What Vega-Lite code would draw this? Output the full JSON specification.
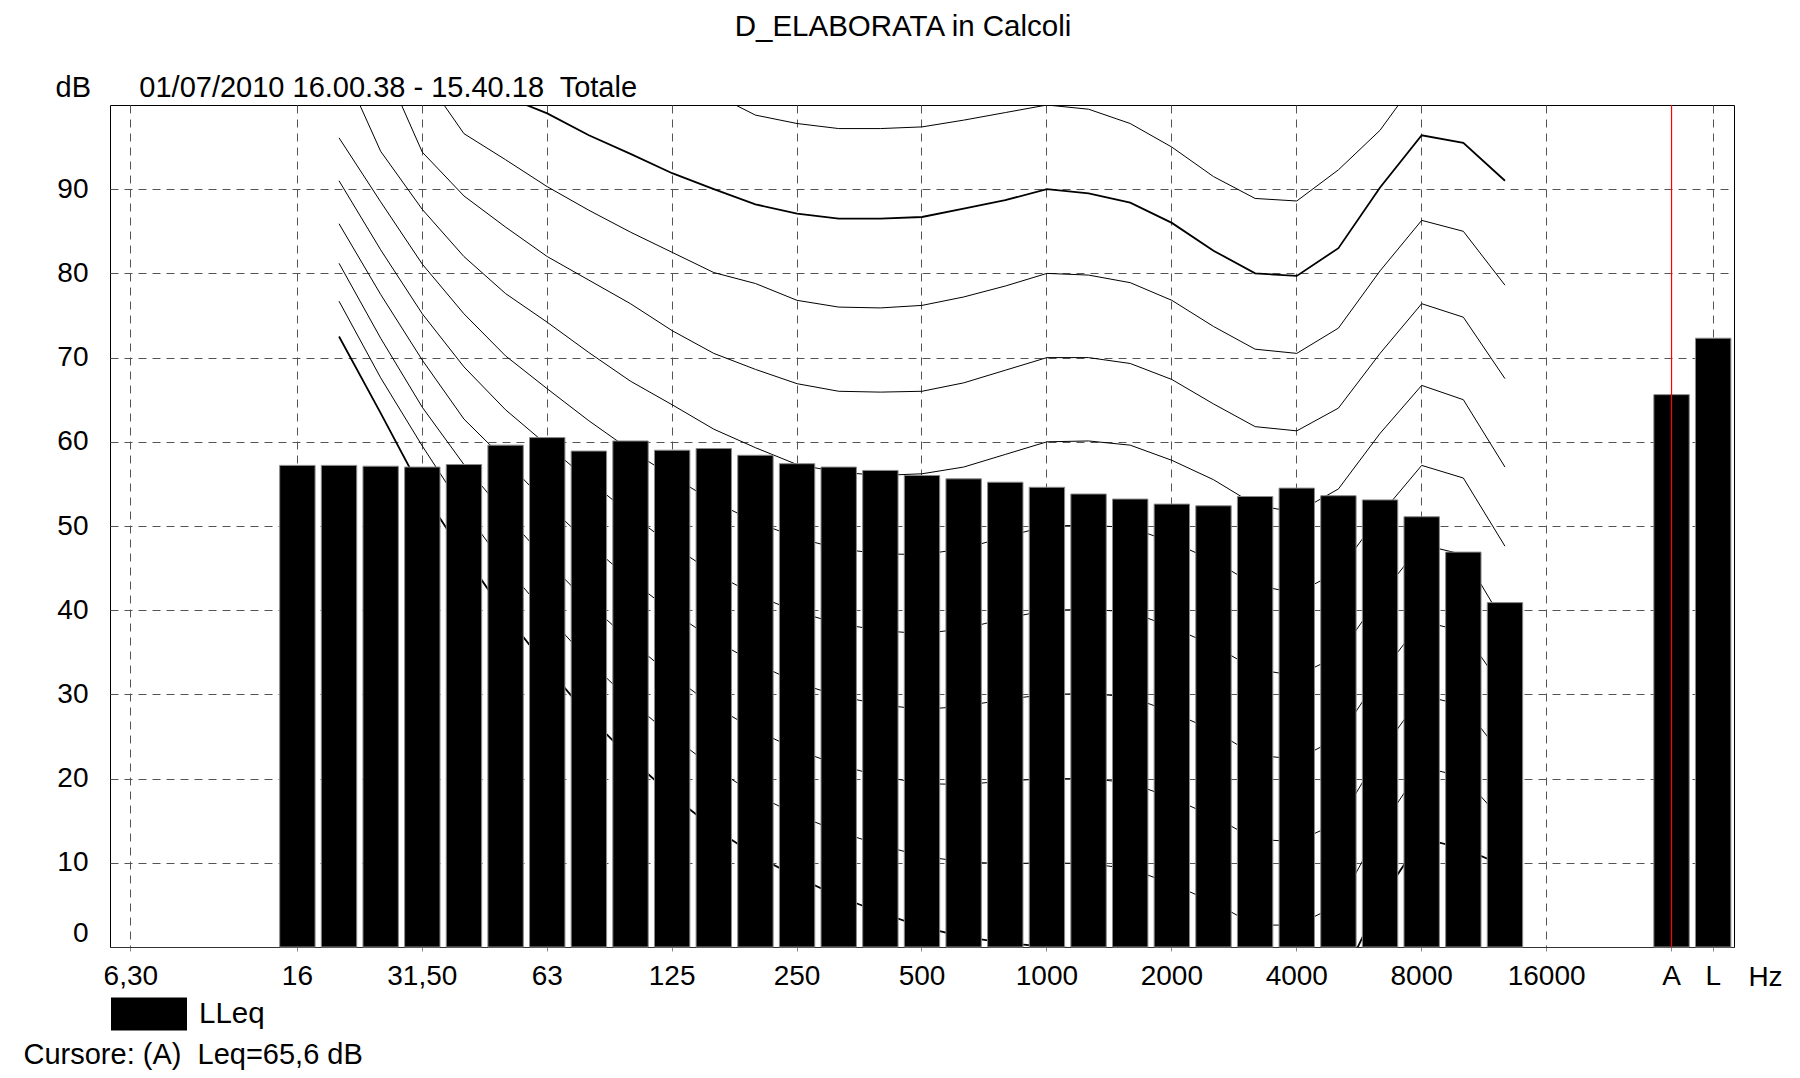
{
  "$schema": "https://vega.github.io/schema/vega-lite/v6.json",
  "width": 1624,
  "height": 842,
  "autosize": {"type": "none"},
  "padding": {"left": 110, "top": 105, "right": 66, "bottom": 131},
  "background": "#ffffff",
  "config": {
    "font": "Liberation Sans",
    "view": {"stroke": "#000000", "strokeWidth": 1}
  },
  "title": {
    "text": "D_ELABORATA in Calcoli",
    "anchor": "middle",
    "frame": "group",
    "dx": -19,
    "offset": 31,
    "fontSize": 29.5,
    "fontWeight": "normal",
    "font": "Liberation Sans",
    "color": "#000000"
  },
  "datasets": {
    "bars": [
      {"f":"16","v":57.2,"s":"LLeq"},{"f":"20","v":57.2,"s":"LLeq"},{"f":"25","v":57.1,"s":"LLeq"},{"f":"31,50","v":57.0,"s":"LLeq"},
      {"f":"40","v":57.3,"s":"LLeq"},{"f":"50","v":59.6,"s":"LLeq"},{"f":"63","v":60.5,"s":"LLeq"},{"f":"80","v":58.9,"s":"LLeq"},
      {"f":"100","v":60.1,"s":"LLeq"},{"f":"125","v":59.0,"s":"LLeq"},{"f":"160","v":59.2,"s":"LLeq"},{"f":"200","v":58.4,"s":"LLeq"},
      {"f":"250","v":57.4,"s":"LLeq"},{"f":"315","v":57.0,"s":"LLeq"},{"f":"400","v":56.6,"s":"LLeq"},{"f":"500","v":56.0,"s":"LLeq"},
      {"f":"630","v":55.6,"s":"LLeq"},{"f":"800","v":55.2,"s":"LLeq"},{"f":"1000","v":54.6,"s":"LLeq"},{"f":"1250","v":53.8,"s":"LLeq"},
      {"f":"1600","v":53.2,"s":"LLeq"},{"f":"2000","v":52.6,"s":"LLeq"},{"f":"2500","v":52.4,"s":"LLeq"},{"f":"3150","v":53.5,"s":"LLeq"},
      {"f":"4000","v":54.5,"s":"LLeq"},{"f":"5000","v":53.6,"s":"LLeq"},{"f":"6300","v":53.1,"s":"LLeq"},{"f":"8000","v":51.1,"s":"LLeq"},
      {"f":"10000","v":46.9,"s":"LLeq"},{"f":"12500","v":40.9,"s":"LLeq"},{"f":"A","v":65.6,"s":"LLeq"},{"f":"L","v":72.3,"s":"LLeq"}
    ],
    "cursor": [{"f":"A"}],
    "curves": [
      {"f":"20","phon":0,"v":72.5},{"f":"25","phon":0,"v":63.4},{"f":"31,50","phon":0,"v":54.1},{"f":"40","phon":0,"v":46.6},{"f":"50","phon":0,"v":39.5},{"f":"63","phon":0,"v":33.2},{"f":"80","phon":0,"v":27.4},{"f":"100","phon":0,"v":22.4},{"f":"125","phon":0,"v":18.0},{"f":"160","phon":0,"v":14.1},{"f":"200","phon":0,"v":10.9},{"f":"250","phon":0,"v":8.3},{"f":"315","phon":0,"v":6.0},{"f":"400","phon":0,"v":4.1},{"f":"500","phon":0,"v":2.4},{"f":"630","phon":0,"v":1.2},{"f":"800","phon":0,"v":0.5},{"f":"1000","phon":0,"v":0},{"f":"1250","phon":0,"v":-0.2},{"f":"1600","phon":0,"v":-0.9},{"f":"2000","phon":0,"v":-2.7},{"f":"2500","phon":0,"v":-5.0},{"f":"3150","phon":0,"v":-7.6},{"f":"4000","phon":0,"v":-7.4},{"f":"5000","phon":0,"v":-4.8},{"f":"6300","phon":0,"v":5.5},{"f":"8000","phon":0,"v":12.9},{"f":"10000","phon":0,"v":11.7},{"f":"12500","phon":0,"v":9.6},
      {"f":"20","phon":10,"v":76.7},{"f":"25","phon":10,"v":67.6},{"f":"31,50","phon":10,"v":59.5},{"f":"40","phon":10,"v":51.9},{"f":"50","phon":10,"v":45.2},{"f":"63","phon":10,"v":39.4},{"f":"80","phon":10,"v":34.0},{"f":"100","phon":10,"v":29.2},{"f":"125","phon":10,"v":25.0},{"f":"160","phon":10,"v":21.3},{"f":"200","phon":10,"v":18.1},{"f":"250","phon":10,"v":15.7},{"f":"315","phon":10,"v":13.7},{"f":"400","phon":10,"v":12.1},{"f":"500","phon":10,"v":10.8},{"f":"630","phon":10,"v":10.1},{"f":"800","phon":10,"v":9.9},{"f":"1000","phon":10,"v":10},{"f":"1250","phon":10,"v":9.9},{"f":"1600","phon":10,"v":9.3},{"f":"2000","phon":10,"v":7.5},{"f":"2500","phon":10,"v":5.3},{"f":"3150","phon":10,"v":2.6},{"f":"4000","phon":10,"v":2.6},{"f":"5000","phon":10,"v":5.0},{"f":"6300","phon":10,"v":14.0},{"f":"8000","phon":10,"v":21.4},{"f":"10000","phon":10,"v":20.2},{"f":"12500","phon":10,"v":14.7},
      {"f":"20","phon":20,"v":81.2},{"f":"25","phon":20,"v":72.3},{"f":"31,50","phon":20,"v":64.1},{"f":"40","phon":20,"v":57.3},{"f":"50","phon":20,"v":51.4},{"f":"63","phon":20,"v":45.8},{"f":"80","phon":20,"v":40.8},{"f":"100","phon":20,"v":36.3},{"f":"125","phon":20,"v":32.2},{"f":"160","phon":20,"v":28.6},{"f":"200","phon":20,"v":25.8},{"f":"250","phon":20,"v":23.4},{"f":"315","phon":20,"v":21.6},{"f":"400","phon":20,"v":20.3},{"f":"500","phon":20,"v":19.4},{"f":"630","phon":20,"v":19.3},{"f":"800","phon":20,"v":19.7},{"f":"1000","phon":20,"v":20},{"f":"1250","phon":20,"v":20.0},{"f":"1600","phon":20,"v":19.5},{"f":"2000","phon":20,"v":17.7},{"f":"2500","phon":20,"v":15.5},{"f":"3150","phon":20,"v":12.8},{"f":"4000","phon":20,"v":12.5},{"f":"5000","phon":20,"v":14.8},{"f":"6300","phon":20,"v":23.0},{"f":"8000","phon":20,"v":29.9},{"f":"10000","phon":20,"v":28.7},{"f":"12500","phon":20,"v":22.3},
      {"f":"20","phon":30,"v":85.9},{"f":"25","phon":30,"v":77.5},{"f":"31,50","phon":30,"v":69.7},{"f":"40","phon":30,"v":62.7},{"f":"50","phon":30,"v":57.8},{"f":"63","phon":30,"v":52.6},{"f":"80","phon":30,"v":47.9},{"f":"100","phon":30,"v":43.6},{"f":"125","phon":30,"v":39.8},{"f":"160","phon":30,"v":36.5},{"f":"200","phon":30,"v":33.7},{"f":"250","phon":30,"v":31.4},{"f":"315","phon":30,"v":29.8},{"f":"400","phon":30,"v":28.8},{"f":"500","phon":30,"v":28.2},{"f":"630","phon":30,"v":28.6},{"f":"800","phon":30,"v":29.4},{"f":"1000","phon":30,"v":30},{"f":"1250","phon":30,"v":30.1},{"f":"1600","phon":30,"v":29.7},{"f":"2000","phon":30,"v":27.9},{"f":"2500","phon":30,"v":25.7},{"f":"3150","phon":30,"v":22.8},{"f":"4000","phon":30,"v":22.3},{"f":"5000","phon":30,"v":24.8},{"f":"6300","phon":30,"v":32.3},{"f":"8000","phon":30,"v":38.7},{"f":"10000","phon":30,"v":37.5},{"f":"12500","phon":30,"v":30.4},
      {"f":"20","phon":40,"v":91.0},{"f":"25","phon":40,"v":82.8},{"f":"31,50","phon":40,"v":75.2},{"f":"40","phon":40,"v":68.9},{"f":"50","phon":40,"v":63.8},{"f":"63","phon":40,"v":59.6},{"f":"80","phon":40,"v":55.4},{"f":"100","phon":40,"v":51.4},{"f":"125","phon":40,"v":47.7},{"f":"160","phon":40,"v":44.4},{"f":"200","phon":40,"v":41.8},{"f":"250","phon":40,"v":39.8},{"f":"315","phon":40,"v":38.4},{"f":"400","phon":40,"v":37.6},{"f":"500","phon":40,"v":37.2},{"f":"630","phon":40,"v":37.8},{"f":"800","phon":40,"v":39.0},{"f":"1000","phon":40,"v":40},{"f":"1250","phon":40,"v":40.1},{"f":"1600","phon":40,"v":39.8},{"f":"2000","phon":40,"v":38.0},{"f":"2500","phon":40,"v":35.8},{"f":"3150","phon":40,"v":33.0},{"f":"4000","phon":40,"v":32.2},{"f":"5000","phon":40,"v":34.6},{"f":"6300","phon":40,"v":41.7},{"f":"8000","phon":40,"v":47.8},{"f":"10000","phon":40,"v":46.6},{"f":"12500","phon":40,"v":38.3},
      {"f":"20","phon":50,"v":96.1},{"f":"25","phon":50,"v":88.5},{"f":"31,50","phon":50,"v":81.1},{"f":"40","phon":50,"v":75.2},{"f":"50","phon":50,"v":70.2},{"f":"63","phon":50,"v":66.3},{"f":"80","phon":50,"v":62.5},{"f":"100","phon":50,"v":59.0},{"f":"125","phon":50,"v":55.9},{"f":"160","phon":50,"v":52.9},{"f":"200","phon":50,"v":50.5},{"f":"250","phon":50,"v":48.6},{"f":"315","phon":50,"v":47.3},{"f":"400","phon":50,"v":46.7},{"f":"500","phon":50,"v":46.6},{"f":"630","phon":50,"v":47.3},{"f":"800","phon":50,"v":48.7},{"f":"1000","phon":50,"v":50},{"f":"1250","phon":50,"v":50.1},{"f":"1600","phon":50,"v":49.8},{"f":"2000","phon":50,"v":48.1},{"f":"2500","phon":50,"v":45.9},{"f":"3150","phon":50,"v":43.0},{"f":"4000","phon":50,"v":42.0},{"f":"5000","phon":50,"v":44.6},{"f":"6300","phon":50,"v":51.3},{"f":"8000","phon":50,"v":57.2},{"f":"10000","phon":50,"v":55.7},{"f":"12500","phon":50,"v":47.6},
      {"f":"20","phon":60,"v":105.5},{"f":"25","phon":60,"v":94.5},{"f":"31,50","phon":60,"v":87.6},{"f":"40","phon":60,"v":82.0},{"f":"50","phon":60,"v":77.6},{"f":"63","phon":60,"v":74.2},{"f":"80","phon":60,"v":70.6},{"f":"100","phon":60,"v":67.2},{"f":"125","phon":60,"v":64.4},{"f":"160","phon":60,"v":61.5},{"f":"200","phon":60,"v":59.3},{"f":"250","phon":60,"v":57.3},{"f":"315","phon":60,"v":56.4},{"f":"400","phon":60,"v":56.0},{"f":"500","phon":60,"v":56.2},{"f":"630","phon":60,"v":57.0},{"f":"800","phon":60,"v":58.5},{"f":"1000","phon":60,"v":60},{"f":"1250","phon":60,"v":60.1},{"f":"1600","phon":60,"v":59.6},{"f":"2000","phon":60,"v":57.8},{"f":"2500","phon":60,"v":55.5},{"f":"3150","phon":60,"v":52.5},{"f":"4000","phon":60,"v":51.6},{"f":"5000","phon":60,"v":54.4},{"f":"6300","phon":60,"v":61.0},{"f":"8000","phon":60,"v":66.7},{"f":"10000","phon":60,"v":65.0},{"f":"12500","phon":60,"v":57.0},
      {"f":"20","phon":70,"v":111},{"f":"25","phon":70,"v":105.6},{"f":"31,50","phon":70,"v":94.4},{"f":"40","phon":70,"v":89.2},{"f":"50","phon":70,"v":85.5},{"f":"63","phon":70,"v":82.0},{"f":"80","phon":70,"v":79.2},{"f":"100","phon":70,"v":76.4},{"f":"125","phon":70,"v":73.2},{"f":"160","phon":70,"v":70.5},{"f":"200","phon":70,"v":68.6},{"f":"250","phon":70,"v":66.9},{"f":"315","phon":70,"v":66.0},{"f":"400","phon":70,"v":65.9},{"f":"500","phon":70,"v":66.0},{"f":"630","phon":70,"v":67.0},{"f":"800","phon":70,"v":68.5},{"f":"1000","phon":70,"v":70},{"f":"1250","phon":70,"v":70},{"f":"1600","phon":70,"v":69.3},{"f":"2000","phon":70,"v":67.4},{"f":"2500","phon":70,"v":64.5},{"f":"3150","phon":70,"v":61.8},{"f":"4000","phon":70,"v":61.3},{"f":"5000","phon":70,"v":64.0},{"f":"6300","phon":70,"v":70.5},{"f":"8000","phon":70,"v":76.4},{"f":"10000","phon":70,"v":74.8},{"f":"12500","phon":70,"v":67.5},
      {"f":"20","phon":80,"v":118},{"f":"25","phon":80,"v":111},{"f":"31,50","phon":80,"v":103.7},{"f":"40","phon":80,"v":96.6},{"f":"50","phon":80,"v":93.5},{"f":"63","phon":80,"v":90.3},{"f":"80","phon":80,"v":87.5},{"f":"100","phon":80,"v":84.9},{"f":"125","phon":80,"v":82.5},{"f":"160","phon":80,"v":80.1},{"f":"200","phon":80,"v":78.8},{"f":"250","phon":80,"v":76.8},{"f":"315","phon":80,"v":76.0},{"f":"400","phon":80,"v":75.9},{"f":"500","phon":80,"v":76.2},{"f":"630","phon":80,"v":77.2},{"f":"800","phon":80,"v":78.5},{"f":"1000","phon":80,"v":80},{"f":"1250","phon":80,"v":79.8},{"f":"1600","phon":80,"v":78.9},{"f":"2000","phon":80,"v":76.8},{"f":"2500","phon":80,"v":73.7},{"f":"3150","phon":80,"v":71.0},{"f":"4000","phon":80,"v":70.5},{"f":"5000","phon":80,"v":73.5},{"f":"6300","phon":80,"v":80.3},{"f":"8000","phon":80,"v":86.3},{"f":"10000","phon":80,"v":85.0},{"f":"12500","phon":80,"v":78.6},
      {"f":"20","phon":90,"v":125},{"f":"25","phon":90,"v":118},{"f":"31,50","phon":90,"v":113},{"f":"40","phon":90,"v":107},{"f":"50","phon":90,"v":101.0},{"f":"63","phon":90,"v":99.0},{"f":"80","phon":90,"v":96.4},{"f":"100","phon":90,"v":94.2},{"f":"125","phon":90,"v":91.9},{"f":"160","phon":90,"v":90.0},{"f":"200","phon":90,"v":88.2},{"f":"250","phon":90,"v":87.1},{"f":"315","phon":90,"v":86.5},{"f":"400","phon":90,"v":86.5},{"f":"500","phon":90,"v":86.7},{"f":"630","phon":90,"v":87.7},{"f":"800","phon":90,"v":88.7},{"f":"1000","phon":90,"v":90},{"f":"1250","phon":90,"v":89.5},{"f":"1600","phon":90,"v":88.4},{"f":"2000","phon":90,"v":86.0},{"f":"2500","phon":90,"v":82.7},{"f":"3150","phon":90,"v":80.0},{"f":"4000","phon":90,"v":79.7},{"f":"5000","phon":90,"v":83.0},{"f":"6300","phon":90,"v":90.2},{"f":"8000","phon":90,"v":96.4},{"f":"10000","phon":90,"v":95.5},{"f":"12500","phon":90,"v":91.0},
      {"f":"20","phon":100,"v":135},{"f":"25","phon":100,"v":128},{"f":"31,50","phon":100,"v":122},{"f":"40","phon":100,"v":116},{"f":"50","phon":100,"v":112},{"f":"63","phon":100,"v":107},{"f":"80","phon":100,"v":104.5},{"f":"100","phon":100,"v":103},{"f":"125","phon":100,"v":102},{"f":"160","phon":100,"v":101.3},{"f":"200","phon":100,"v":98.8},{"f":"250","phon":100,"v":97.8},{"f":"315","phon":100,"v":97.2},{"f":"400","phon":100,"v":97.2},{"f":"500","phon":100,"v":97.4},{"f":"630","phon":100,"v":98.2},{"f":"800","phon":100,"v":99.1},{"f":"1000","phon":100,"v":100},{"f":"1250","phon":100,"v":99.5},{"f":"1600","phon":100,"v":97.8},{"f":"2000","phon":100,"v":95.0},{"f":"2500","phon":100,"v":91.5},{"f":"3150","phon":100,"v":88.9},{"f":"4000","phon":100,"v":88.6},{"f":"5000","phon":100,"v":92.3},{"f":"6300","phon":100,"v":97.0},{"f":"8000","phon":100,"v":103.8},{"f":"10000","phon":100,"v":103},{"f":"12500","phon":100,"v":100.5}
    ]
  },
  "encoding": {
    "x": {
      "field": "f",
      "type": "nominal",
      "scale": {
        "type": "band",
        "domain": ["6,30","8","10","12,50","16","20","25","31,50","40","50","63","80","100","125","160","200","250","315","400","500","630","800","1000","1250","1600","2000","2500","3150","4000","5000","6300","8000","10000","12500","16000","20000","_","A","L"],
        "paddingInner": 0.15,
        "paddingOuter": 0.075
      },
      "axis": {
        "values": ["6,30","16","31,50","63","125","250","500","1000","2000","4000","8000","16000","A","L"],
        "bandPosition": 0.5,
        "grid": true,
        "gridDash": [8, 6],
        "gridColor": "#555555",
        "gridWidth": 1,
        "ticks": true,
        "tickSize": 4,
        "tickColor": "#888888",
        "domainColor": "#333333",
        "labelAngle": 0,
        "labelFont": "Liberation Sans",
        "labelFontSize": 28,
        "labelColor": "#000000",
        "labelPadding": 11,
        "labelFlush": false,
        "title": "Cursore: (A)\u00a0 Leq=65,6 dB",
        "titleX": -87,
        "titleY": 107,
        "titleAlign": "left",
        "titleAnchor": "start",
        "titleBaseline": "middle",
        "titleFont": "Liberation Sans",
        "titleFontSize": 29,
        "titleFontWeight": "normal",
        "titleColor": "#000000"
      }
    }
  },
  "layer": [
    {
      "data": {"name": "curves"},
      "mark": {"type": "line", "clip": true, "color": "#000000", "interpolate": "linear"},
      "encoding": {
        "y": {
          "field": "v",
          "type": "quantitative",
          "scale": {"domain": [0, 100], "nice": false, "zero": false},
          "axis": {
            "orient": "left",
            "values": [0, 10, 20, 30, 40, 50, 60, 70, 80, 90],
            "grid": true,
            "gridDash": [8, 6],
            "gridColor": "#555555",
            "gridWidth": 1,
            "ticks": false,
            "domain": false,
            "labelFont": "Liberation Sans",
            "labelFontSize": 28,
            "labelColor": "#000000",
            "labelPadding": 22,
            "labelFlush": true,
            "title": "dB\u00a0\u00a0\u00a0\u00a0\u00a0 01/07/2010 16.00.38 - 15.40.18\u00a0 Totale",
            "titleAngle": 0,
            "titleX": -55,
            "titleY": -18,
            "titleAlign": "left",
            "titleBaseline": "middle",
            "titleFont": "Liberation Sans",
            "titleFontSize": 29,
            "titleFontWeight": "normal",
            "titleColor": "#000000"
          }
        },
        "detail": {"field": "phon", "type": "nominal"},
        "order": {"value": null},
        "strokeWidth": {
          "condition": {"test": "datum.phon === 90 || datum.phon === 0", "value": 1.8},
          "value": 1
        }
      }
    },
    {
      "data": {"name": "bars"},
      "mark": {"type": "bar", "stroke": "#8a8a8a", "strokeWidth": 1},
      "encoding": {
        "y": {
          "field": "v",
          "type": "quantitative",
          "scale": {"domain": [0, 100], "nice": false, "zero": false},
          "axis": {
            "orient": "right",
            "labels": false,
            "ticks": false,
            "domain": false,
            "grid": false,
            "title": "Hz",
            "titleAngle": 0,
            "titleX": 31,
            "titleY": 872,
            "titleAlign": "center",
            "titleBaseline": "middle",
            "titleFont": "Liberation Sans",
            "titleFontSize": 28,
            "titleFontWeight": "normal",
            "titleColor": "#000000"
          }
        },
        "color": {
          "field": "s",
          "type": "nominal",
          "scale": {"range": ["#000000"]},
          "legend": {
            "orient": "none",
            "legendX": 1,
            "legendY": 871,
            "title": null,
            "padding": 0,
            "symbolType": "M-1,-0.434L1,-0.434L1,0.434L-1,0.434Z",
            "symbolSize": 5776,
            "symbolFillColor": "#000000",
            "symbolStrokeWidth": 0,
            "labelFont": "Liberation Sans",
            "labelFontSize": 29.5,
            "labelColor": "#000000",
            "labelOffset": 12
          }
        }
      }
    },
    {
      "data": {"name": "cursor"},
      "mark": {"type": "rule", "color": "#ff0000", "strokeWidth": 1.2},
      "encoding": {}
    }
  ],
  "resolve": {"axis": {"y": "independent"}}
}
